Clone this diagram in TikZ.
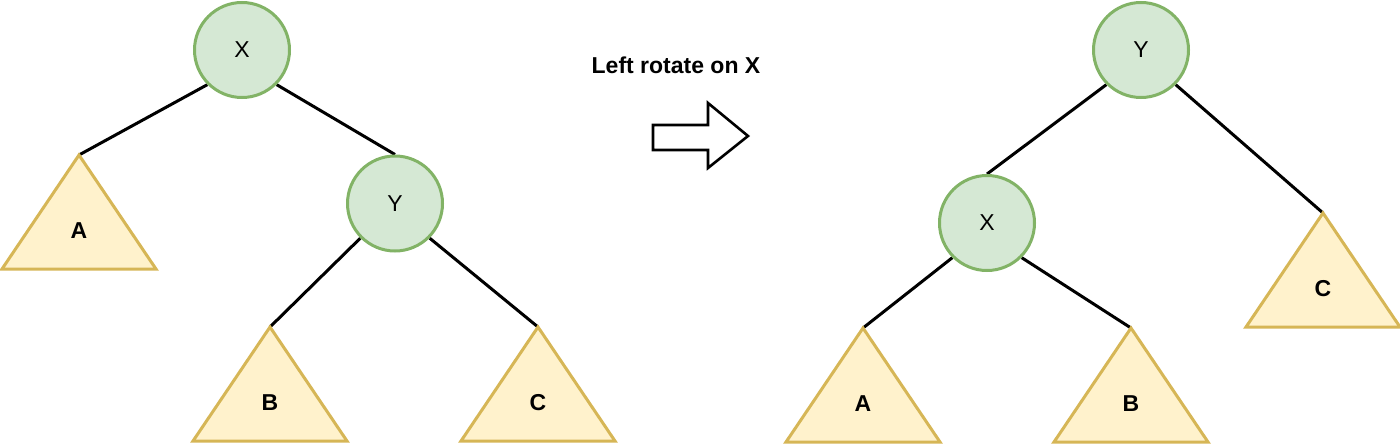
\documentclass[tikz,border=0pt]{standalone}
\usepackage{fontspec}
\setmainfont{Liberation Sans}
\usetikzlibrary{backgrounds}
\definecolor{cfill}{HTML}{D5E8D4}
\definecolor{cdraw}{HTML}{82B366}
\definecolor{tfill}{HTML}{FFF2CC}
\definecolor{tdraw}{HTML}{D6B656}
\tikzset{
  treenode/.style={circle, draw=cdraw, fill=cfill, line width=3pt, minimum size=95pt, inner sep=0pt, font=\fontsize{23}{27}\selectfont},
  trilabel/.style={inner sep=0pt, font=\fontsize{23}{27}\selectfont\bfseries},
  tribox/.style={draw=tdraw, fill=tfill, line width=3pt, line join=miter},
  edge/.style={draw=black, line width=3pt},
  bigarrow/.style={draw=black, fill=white, line width=2.6pt, line join=miter},
  caption/.style={inner sep=0pt, font=\fontsize{23}{27}\selectfont\bfseries}
}
% \subtree{name}{apex x}{apex y}{label}
\newcommand{\subtree}[4]{%
  \path[tribox] (#2,#3) -- ++(-77,114) -- ++(154,0) -- cycle;
  \coordinate (#1-top) at (#2,#3);
  \node[trilabel] (#1) at (#2,#3+76) {#4};
}
\begin{document}
\begin{tikzpicture}[x=1pt,y=-1pt]
\useasboundingbox (0,0) rectangle (1400,444);
% left tree
\node[treenode] (lx) at (242,50) {X};
\node[treenode] (ly) at (395,203.5) {Y};
\subtree{la}{79}{155}{A}
\subtree{lb}{270}{327}{B}
\subtree{lc}{538}{327}{C}
% right tree
\node[treenode] (ry) at (1141,50) {Y};
\node[treenode] (rx) at (987,223) {X};
\subtree{ra}{863}{328}{A}
\subtree{rb}{1131}{328}{B}
\subtree{rc}{1323}{213}{C}
\begin{scope}[on background layer]
\draw[edge] (lx.south west) -- (la-top);
\draw[edge] (lx.south east) -- (ly.north);
\draw[edge] (ly.south west) -- (lb-top);
\draw[edge] (ly.south east) -- (lc-top);
\draw[edge] (ry.south west) -- (rx.north);
\draw[edge] (ry.south east) -- (rc-top);
\draw[edge] (rx.south west) -- (ra-top);
\draw[edge] (rx.south east) -- (rb-top);
\end{scope}
% caption and arrow
\node[caption] (cap) at (676,65) {Left rotate on X};
\path[bigarrow] (653,125) -- (708,125) -- (708,103) -- (748,136) -- (708,168) -- (708,150) -- (653,150) -- cycle;
\end{tikzpicture}
\end{document}
